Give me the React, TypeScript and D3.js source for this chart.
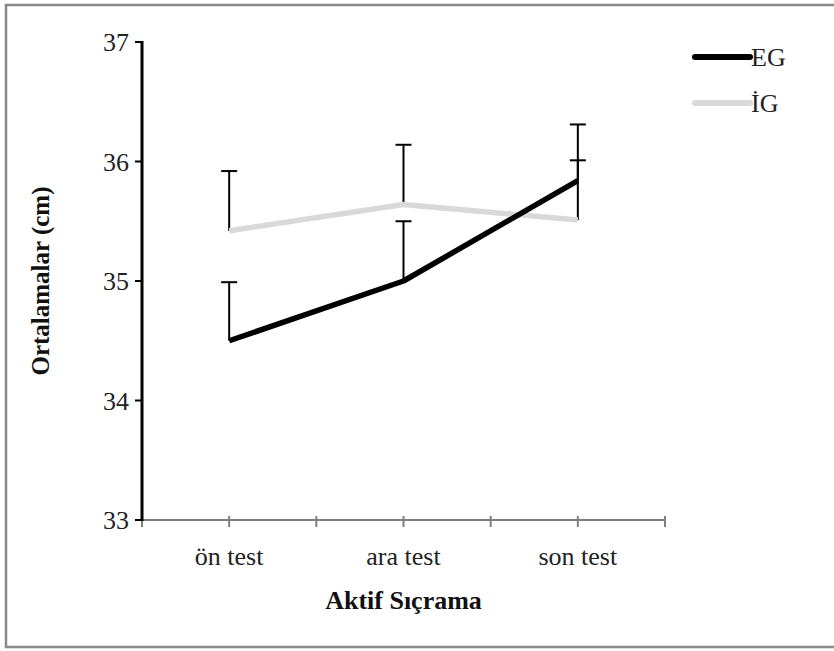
import React, { useRef, useEffect } from "react";
import * as d3 from "d3";

// values
const categories = ["ön test", "ara test", "son test"];
const egMeans = [34.5, 35.0, 35.84];
const egErr = [0.49, 0.5, 0.17];
const igMeans = [35.42, 35.64, 35.51];
const igErr = [0.5, 0.5, 0.8];
const yTicks = [33, 34, 35, 36, 37];

const FONT = "'Liberation Serif', 'DejaVu Serif', serif";

const App = () => {
  const ref = useRef<HTMLDivElement>(null);

  useEffect(() => {
    const W = 834;
    const H = 651;
    const left = 142;
    const right = 665;
    const top = 42;
    const bottom = 520;

    d3.select(ref.current).select("svg").remove();

    const svg = d3
      .select(ref.current)
      .append("svg")
      .attr("width", W)
      .attr("height", H)
      .style("display", "block");

    svg.append("rect").attr("width", W).attr("height", H).attr("fill", "white");

    // outer frame (right edge runs off the picture)
    svg
      .append("rect")
      .attr("x", 6)
      .attr("y", 5)
      .attr("width", W + 10)
      .attr("height", 642)
      .attr("fill", "none")
      .attr("stroke", "#8a8a8a")
      .attr("stroke-width", 2.5);

    const x = d3.scaleBand().domain(categories).range([left, right]).padding(0);
    const y = d3.scaleLinear().domain([33, 37]).range([bottom, top]);
    const cx = (c: string) => (x(c) as number) + x.bandwidth() / 2;

    // x axis: gray line, ticks at band edges and centres
    const xTickPos: number[] = [];
    categories.forEach((c) => {
      xTickPos.push(x(c) as number);
      xTickPos.push(cx(c));
    });
    xTickPos.push(right);

    svg
      .append("line")
      .attr("x1", left)
      .attr("x2", right)
      .attr("y1", y(33))
      .attr("y2", y(33))
      .attr("stroke", "#7f7f7f")
      .attr("stroke-width", 2);

    svg
      .selectAll(".xtick")
      .data(xTickPos)
      .enter()
      .append("line")
      .attr("x1", (d) => d)
      .attr("x2", (d) => d)
      .attr("y1", y(33) - 4)
      .attr("y2", y(33) + 7)
      .attr("stroke", "#7f7f7f")
      .attr("stroke-width", 2);

    svg
      .selectAll(".xlab")
      .data(categories)
      .enter()
      .append("text")
      .attr("x", (d) => cx(d))
      .attr("y", 565)
      .attr("text-anchor", "middle")
      .style("font-family", FONT)
      .style("font-size", "26px")
      .attr("fill", "#222")
      .text((d) => d);

    svg
      .append("text")
      .attr("x", (left + right) / 2)
      .attr("y", 609)
      .attr("text-anchor", "middle")
      .style("font-family", FONT)
      .style("font-size", "26px")
      .style("font-weight", "bold")
      .attr("fill", "#111")
      .text("Aktif Sıçrama");

    // y axis: black thick line, outside ticks
    svg
      .append("line")
      .attr("x1", left)
      .attr("x2", left)
      .attr("y1", y(37) - 1)
      .attr("y2", y(33) + 1)
      .attr("stroke", "black")
      .attr("stroke-width", 3);

    svg
      .selectAll(".ytick")
      .data(yTicks)
      .enter()
      .append("line")
      .attr("x1", left - 7)
      .attr("x2", left)
      .attr("y1", (d) => y(d))
      .attr("y2", (d) => y(d))
      .attr("stroke", "black")
      .attr("stroke-width", 2);

    svg
      .selectAll(".ylab")
      .data(yTicks)
      .enter()
      .append("text")
      .attr("x", left - 13)
      .attr("y", (d) => y(d))
      .attr("dy", "0.35em")
      .attr("text-anchor", "end")
      .style("font-family", FONT)
      .style("font-size", "26px")
      .attr("fill", "#222")
      .text((d) => d);

    svg
      .append("text")
      .attr("transform", `translate(49,${(top + bottom) / 2}) rotate(-90)`)
      .attr("text-anchor", "middle")
      .style("font-family", FONT)
      .style("font-size", "25px")
      .style("font-weight", "bold")
      .attr("fill", "#111")
      .text("Ortalamalar (cm)");

    const line = d3
      .line<number>()
      .x((_, i) => cx(categories[i]))
      .y((d) => y(d));

    const series = [
      { name: "İG", means: igMeans, err: igErr, color: "#d9d9d9" },
      { name: "EG", means: egMeans, err: egErr, color: "black" },
    ];

    // error bars (upper only)
    series.forEach((s) => {
      s.means.forEach((m, i) => {
        const px = cx(categories[i]);
        svg
          .append("line")
          .attr("x1", px)
          .attr("x2", px)
          .attr("y1", y(m))
          .attr("y2", y(m + s.err[i]))
          .attr("stroke", "black")
          .attr("stroke-width", 2);
        svg
          .append("line")
          .attr("x1", px - 8)
          .attr("x2", px + 8)
          .attr("y1", y(m + s.err[i]))
          .attr("y2", y(m + s.err[i]))
          .attr("stroke", "black")
          .attr("stroke-width", 2);
      });
    });

    series.forEach((s) => {
      svg
        .append("path")
        .datum(s.means)
        .attr("fill", "none")
        .attr("stroke", s.color)
        .attr("stroke-width", 5.5)
        .attr("stroke-linejoin", "round")
        .attr("d", line);
    });

    // legend
    const legend = [
      { name: "EG", color: "black", y: 57 },
      { name: "İG", color: "#d9d9d9", y: 103 },
    ];
    legend.forEach((l) => {
      svg
        .append("line")
        .attr("x1", 695)
        .attr("x2", 750)
        .attr("y1", l.y)
        .attr("y2", l.y)
        .attr("stroke", l.color)
        .attr("stroke-width", 6)
        .attr("stroke-linecap", "round");
      svg
        .append("text")
        .attr("x", 751)
        .attr("y", l.y)
        .attr("dy", "0.35em")
        .style("font-family", FONT)
        .style("font-size", "26px")
        .attr("fill", "#222")
        .text(l.name);
    });
  }, []);

  return (
    <div
      ref={ref}
      style={{ position: "absolute", left: 0, top: 0, width: 834, height: 651 }}
    ></div>
  );
};

export default App;
